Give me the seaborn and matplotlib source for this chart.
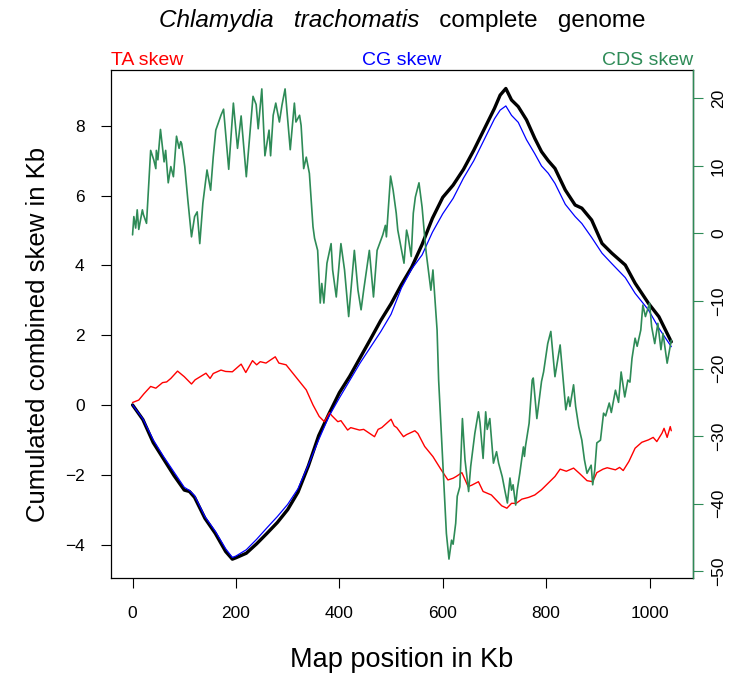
import matplotlib
matplotlib.use("Agg")
import matplotlib.pyplot as plt
import seaborn as sns
import pandas as pd

# ---- data (positions in Kb) ----
skew_pos = [0, 20, 40, 60, 80, 100, 110, 120, 140, 160, 180, 193, 200, 220, 240, 260,
            280, 300, 320, 340, 360, 380, 400, 420, 440, 460, 480, 500, 520, 540, 560,
            580, 600, 620, 640, 660, 680, 700, 711, 722, 733, 746, 762, 778, 791, 804,
            817, 837, 856, 869, 888, 908, 927, 953, 972, 998, 1018, 1042]
combined_skew = [0, -0.42, -1.08, -1.55, -2.02, -2.44, -2.48, -2.65, -3.25, -3.68, -4.2,
                 -4.42, -4.38, -4.25, -3.98, -3.68, -3.37, -3.0, -2.5, -1.75, -0.88, -0.25,
                 0.35, 0.82, 1.35, 1.88, 2.42, 2.9, 3.45, 3.95, 4.6, 5.35, 5.95, 6.3, 6.75,
                 7.3, 7.9, 8.5, 8.88, 9.07, 8.74, 8.55, 8.17, 7.64, 7.26, 7.0, 6.78, 6.16,
                 5.73, 5.64, 5.30, 4.63, 4.35, 4.01, 3.49, 2.91, 2.53, 1.81]
cg_skew = [0, -0.40, -1.0, -1.48, -1.92, -2.36, -2.45, -2.60, -3.2, -3.62, -4.12, -4.37,
           -4.33, -4.15, -3.85, -3.52, -3.2, -2.85, -2.4, -1.72, -1.0, -0.32, 0.2, 0.7,
           1.2, 1.65, 2.1, 2.6, 3.35, 3.9, 4.3, 4.95, 5.48, 5.92, 6.5, 7.0, 7.6, 8.2,
           8.45, 8.57, 8.3, 8.1, 7.6, 7.2, 6.85, 6.64, 6.35, 5.75, 5.4, 5.2, 4.8, 4.35,
           4.05, 3.65, 3.2, 2.72, 2.2, 1.67]

ta_pos = [0, 12, 22, 35, 45, 58, 66, 74, 87, 100, 114, 121, 142, 150, 156, 171, 180,
          193, 210, 219, 232, 240, 247, 258, 276, 283, 297, 310, 323, 336, 349, 361,
          371, 381, 385, 397, 403, 416, 422, 439, 447, 468, 475, 482, 500, 506, 511,
          524, 530, 546, 552, 565, 581, 586, 597, 610, 620, 626, 637, 649, 656, 669,
          678, 694, 714, 724, 733, 742, 753, 766, 778, 791, 804, 817, 827, 839, 853,
          865, 879, 890, 898, 910, 918, 934, 942, 949, 960, 972, 985, 998, 1007, 1014,
          1024, 1028, 1034, 1040, 1042]
ta_skew = [0.07, 0.14, 0.32, 0.53, 0.48, 0.64, 0.66, 0.76, 0.97, 0.81, 0.60, 0.72, 0.91,
           0.76, 0.90, 1.00, 0.96, 0.95, 1.17, 0.93, 1.27, 1.15, 1.24, 1.20, 1.38, 1.20,
           1.15, 0.91, 0.67, 0.43, 0.00, -0.33, -0.48, -0.22, -0.30, -0.48, -0.45, -0.72,
           -0.65, -0.72, -0.70, -0.91, -0.70, -0.65, -0.41, -0.60, -0.65, -0.91, -0.85,
           -0.74, -0.82, -1.19, -1.48, -1.60, -1.86, -2.15, -2.10, -2.05, -1.94, -2.34,
           -2.30, -2.20, -2.48, -2.58, -2.89, -2.96, -2.82, -2.82, -2.70, -2.65, -2.58,
           -2.43, -2.24, -2.05, -1.84, -1.90, -1.81, -1.97, -2.17, -2.20, -1.94, -1.84,
           -1.80, -1.86, -1.79, -1.88, -1.62, -1.24, -1.07, -1.00, -0.93, -1.05, -0.81,
           -0.67, -0.93, -0.62, -0.74]

cds_pos = [0, 2.5, 6, 9, 12, 19, 21, 27, 35, 41, 45, 46, 49, 54, 61, 64, 69, 74, 79, 85,
           90, 93, 95, 101, 107, 114, 120, 125, 130, 136, 144, 151, 156, 161, 171, 176,
           186, 195, 203, 210, 220, 233, 239, 243, 250, 256, 264, 267, 272, 277, 284,
           289, 295, 305, 313, 316, 323, 326, 331, 336, 342, 349, 352, 358, 363, 366,
           370, 376, 384, 387, 394, 403, 410, 418, 429, 436, 442, 447, 458, 466, 473,
           484, 489, 491, 499, 504, 510, 513, 525, 530, 533, 539, 543, 547, 554, 560,
           565, 568, 577, 581, 589, 592, 601, 607, 612, 617, 620, 625, 628, 633, 638,
           643, 650, 654, 662, 669, 672, 678, 683, 686, 691, 698, 704, 708, 715, 720,
           725, 730, 733, 736, 741, 744, 749, 756, 758, 760, 767, 773, 775, 782, 791,
           795, 803, 809, 817, 827, 833, 838, 843, 846, 853, 857, 863, 869, 874, 879,
           887, 890, 894, 898, 905, 911, 915, 922, 926, 934, 940, 945, 952, 958, 962,
           966, 972, 976, 983, 987, 992, 1000, 1004, 1010, 1016, 1022, 1026, 1034, 1042]
cds_skew = [-0.2, 2.5, 0.8, 3.5, 0.6, 3.5, 2.8, 1.5, 12.3, 10.9, 9.6, 12.3, 10.9, 15.4,
            10.6, 12.3, 7.5, 9.9, 8.4, 14.4, 12.6, 13.6, 13.3, 9.9, 4.9, -0.5, 2.5, 3.2,
            -1.5, 4.5, 9.4, 6.4, 11.3, 15.3, 17.5, 18.4, 9.5, 19.3, 12.6, 17.4, 8.4, 20.3,
            19.1, 15.5, 21.4, 11.5, 15.3, 11.5, 17.5, 19.3, 16.5, 19.0, 21.4, 12.4, 19.3,
            16.5, 17.5, 16.0, 9.6, 11.3, 8.9, 1.0, -0.7, -2.5, -10.3, -7.4, -10.3, -4.4,
            -1.5, -5.4, -9.4, -1.5, -5.4, -12.3, -2.5, -8.4, -11.3, -8.4, -2.5, -9.4,
            -2.5, -0.2, 1.2, -0.5, 8.5, 6.4, 3.0, 0.5, -4.4, 0.5, -0.5, -3.4, 3.0, 5.4,
            7.5, 3.9, -0.5, -2.9, -8.4, -5.4, -14.3, -21.7, -35.5, -44.4, -48.2, -45.4,
            -46.0, -42.9, -38.9, -37.5, -27.4, -33.5, -38.2, -34.5, -29.6, -26.4, -28.0,
            -33.3, -26.4, -29.0, -27.4, -34.0, -32.3, -34.0, -36.0, -38.0, -39.9, -36.2,
            -38.0, -37.2, -40.2, -38.0, -35.5, -31.6, -33.0, -31.5, -28.1, -21.7, -21.4,
            -27.4, -21.9, -20.5, -16.3, -14.5, -21.2, -16.5, -21.7, -26.1, -24.2, -25.6,
            -22.4, -25.6, -28.6, -30.6, -33.5, -35.5, -34.3, -37.2, -35.0, -31.0, -30.6,
            -26.6, -27.0, -25.1, -26.5, -23.2, -25.0, -20.5, -24.2, -21.7, -22.0, -18.5,
            -15.5, -16.7, -14.3, -10.6, -12.3, -10.3, -13.8, -16.3, -13.3, -17.2, -14.8,
            -19.2, -15.8]

x_ticks = [0, 200, 400, 600, 800, 1000]
left_ticks = [-4, -2, 0, 2, 4, 6, 8]
right_ticks = [-50, -40, -30, -20, -10, 0, 10, 20]

TA_COL, CG_COL, CDS_COL = "#FF0000", "#0000FF", "#2E8B57"

skew_df = pd.DataFrame({"pos": skew_pos, "combined": combined_skew, "cg": cg_skew})
ta_df = pd.DataFrame({"pos": ta_pos, "ta": ta_skew})
cds_df = pd.DataFrame({"pos": cds_pos, "cds": cds_skew})

sns.set_style("white")
plt.rcParams["font.family"] = ["Liberation Sans", "DejaVu Sans"]
plt.rcParams.update({"text.color": "black", "axes.labelcolor": "black",
                     "xtick.color": "black", "ytick.color": "black"})

W, H = 741, 676
fig = plt.figure(figsize=(W / 100, H / 100), dpi=100)
L, R, T, B = 111, 693, 70, 578
ax = fig.add_axes([L / W, 1 - B / H, (R - L) / W, (B - T) / H])
ax2 = ax.twinx()

sns.lineplot(data=skew_df, x="pos", y="combined", ax=ax, color="black", lw=2.4,
             sort=False, estimator=None)
sns.lineplot(data=ta_df, x="pos", y="ta", ax=ax, color=TA_COL, lw=1.0,
             sort=False, estimator=None)
sns.lineplot(data=skew_df, x="pos", y="cg", ax=ax, color=CG_COL, lw=0.9,
             sort=False, estimator=None)
sns.lineplot(data=cds_df, x="pos", y="cds", ax=ax2, color=CDS_COL, lw=1.2,
             sort=False, estimator=None)

ax.set_xlim(-41.7, 1084)
ax.set_ylim(-4.96, 9.6)
ax2.set_ylim(-51.0, 24.2)

ax.set_xticks(x_ticks)
ax.set_yticks(left_ticks)
ax2.set_yticks(right_ticks)
ax.set_xlabel("")
ax.set_ylabel("")
ax2.set_ylabel("")

for s in ax.spines.values():
    s.set_color("black")
    s.set_linewidth(0.9)
for name, s in ax2.spines.items():
    s.set_visible(name == "right")
ax2.spines["right"].set_color(CDS_COL)
ax2.spines["right"].set_linewidth(1.0)

ax.tick_params(axis="x", direction="out", length=7, width=0.8, color="black",
               labelsize=12.5, pad=13, bottom=True, labelcolor="black")
ax.tick_params(axis="y", direction="out", length=7, width=0.8, color="black",
               labelsize=12.5, pad=12, left=True, labelcolor="black")
ax2.tick_params(axis="y", direction="out", length=7, width=0.8, color=CDS_COL,
                labelsize=12.5, pad=6, right=True, labelcolor="black")
for lab in ax2.get_yticklabels():
    lab.set_rotation(90)
    lab.set_va("center")

# axis titles
fig.text((L + R) / 2 / W, 1 - 660 / H, "Map position in Kb", ha="center", va="center",
         fontsize=19.5)
fig.text(38 / W, 1 - 334 / H, "Cumulated combined skew in Kb", ha="center",
         va="center", rotation=90, fontsize=18.5)

# series labels above the frame
fig.text(L / W, 1 - 65 / H, "TA skew", color=TA_COL, ha="left", va="baseline", fontsize=14)
fig.text((L + R) / 2 / W, 1 - 65 / H, "CG skew", color=CG_COL, ha="center",
         va="baseline", fontsize=14)
fig.text(R / W, 1 - 65 / H, "CDS skew", color=CDS_COL, ha="right", va="baseline",
         fontsize=14)

# title: italic species name followed by plain text, centred on the plot
renderer = fig.canvas.get_renderer()
t1 = fig.text(0, 1 - 27 / H, "Chlamydia   trachomatis", style="italic", ha="left",
              va="baseline", fontsize=17.5)
t2 = fig.text(0, 1 - 27 / H, "   complete   genome", ha="left", va="baseline",
              fontsize=17.5)
w1 = t1.get_window_extent(renderer).width
w2 = t2.get_window_extent(renderer).width
x0 = (L + R) / 2 - (w1 + w2) / 2
t1.set_x(x0 / W)
t2.set_x((x0 + w1) / W)

fig.savefig("out.png", dpi=100)
